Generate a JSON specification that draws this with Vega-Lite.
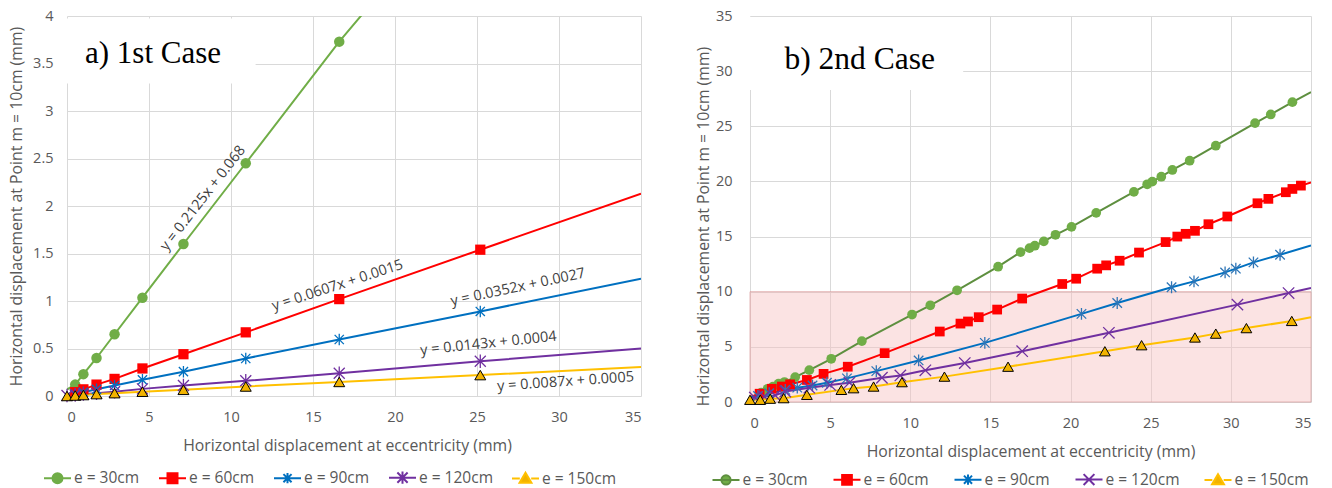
{
  "$schema": "https://vega.github.io/schema/vega-lite/v6.json",
  "background": "white",
  "padding": {"left": 8, "top": 8, "right": 0, "bottom": 0},
  "spacing": 54,
  "config": {
    "font": "Open Sans",
    "view": {"stroke": null},
    "axis": {
      "grid": true, "gridColor": "#d9d9d9", "gridWidth": 1, "domain": false, "ticks": false,
      "labelColor": "#595959", "labelFont": "Open Sans", "labelFontSize": 14.5,
      "titleColor": "#595959", "titleFont": "Open Sans", "titleFontSize": 15.8, "titleFontWeight": "normal"
    },
    "legend": {"padding": 0, "labelFont": "Open Sans", "labelColor": "#595959", "labelFontSize": 15.5}
  },
  "datasets": {
    "L": [
      {"series": "e = 30cm", "x": 0, "y": 0.068, "kind": "fit"},
      {"series": "e = 30cm", "x": 0.5, "y": 0.12, "kind": "obs"},
      {"series": "e = 30cm", "x": 1.0, "y": 0.23, "kind": "obs"},
      {"series": "e = 30cm", "x": 1.8, "y": 0.40, "kind": "obs"},
      {"series": "e = 30cm", "x": 2.9, "y": 0.65, "kind": "obs"},
      {"series": "e = 30cm", "x": 4.6, "y": 1.035, "kind": "obs"},
      {"series": "e = 30cm", "x": 7.1, "y": 1.60, "kind": "obs"},
      {"series": "e = 30cm", "x": 10.9, "y": 2.45, "kind": "obs"},
      {"series": "e = 30cm", "x": 16.6, "y": 3.73, "kind": "obs"},
      {"series": "e = 30cm", "x": 35, "y": 7.5, "kind": "fit"},
      {"series": "e = 60cm", "x": 0, "y": 0.0015, "kind": "fit"},
      {"series": "e = 60cm", "x": 0.5, "y": 0.04, "kind": "obs"},
      {"series": "e = 60cm", "x": 1.0, "y": 0.07, "kind": "obs"},
      {"series": "e = 60cm", "x": 1.8, "y": 0.12, "kind": "obs"},
      {"series": "e = 60cm", "x": 2.9, "y": 0.18, "kind": "obs"},
      {"series": "e = 60cm", "x": 4.6, "y": 0.29, "kind": "obs"},
      {"series": "e = 60cm", "x": 7.1, "y": 0.44, "kind": "obs"},
      {"series": "e = 60cm", "x": 10.9, "y": 0.67, "kind": "obs"},
      {"series": "e = 60cm", "x": 16.6, "y": 1.02, "kind": "obs"},
      {"series": "e = 60cm", "x": 25.2, "y": 1.54, "kind": "obs"},
      {"series": "e = 60cm", "x": 35, "y": 2.13, "kind": "fit"},
      {"series": "e = 90cm", "x": 0, "y": 0.003, "kind": "fit"},
      {"series": "e = 90cm", "x": 0.5, "y": 0.02, "kind": "obs"},
      {"series": "e = 90cm", "x": 1.0, "y": 0.04, "kind": "obs"},
      {"series": "e = 90cm", "x": 1.8, "y": 0.07, "kind": "obs"},
      {"series": "e = 90cm", "x": 2.9, "y": 0.11, "kind": "obs"},
      {"series": "e = 90cm", "x": 4.6, "y": 0.17, "kind": "obs"},
      {"series": "e = 90cm", "x": 7.1, "y": 0.256, "kind": "obs"},
      {"series": "e = 90cm", "x": 10.9, "y": 0.395, "kind": "obs"},
      {"series": "e = 90cm", "x": 16.6, "y": 0.595, "kind": "obs"},
      {"series": "e = 90cm", "x": 25.2, "y": 0.89, "kind": "obs"},
      {"series": "e = 90cm", "x": 35, "y": 1.235, "kind": "fit"},
      {"series": "e = 120cm", "x": 0, "y": 0.0004, "kind": "fit"},
      {"series": "e = 120cm", "x": 0, "y": 0.005, "kind": "obs"},
      {"series": "e = 120cm", "x": 0.5, "y": 0.01, "kind": "obs"},
      {"series": "e = 120cm", "x": 1.0, "y": 0.02, "kind": "obs"},
      {"series": "e = 120cm", "x": 1.8, "y": 0.03, "kind": "obs"},
      {"series": "e = 120cm", "x": 2.9, "y": 0.045, "kind": "obs"},
      {"series": "e = 120cm", "x": 4.6, "y": 0.075, "kind": "obs"},
      {"series": "e = 120cm", "x": 7.1, "y": 0.11, "kind": "obs"},
      {"series": "e = 120cm", "x": 10.9, "y": 0.16, "kind": "obs"},
      {"series": "e = 120cm", "x": 16.6, "y": 0.24, "kind": "obs"},
      {"series": "e = 120cm", "x": 25.2, "y": 0.365, "kind": "obs"},
      {"series": "e = 120cm", "x": 35, "y": 0.5, "kind": "fit"},
      {"series": "e = 150cm", "x": 0, "y": 0.0005, "kind": "fit"},
      {"series": "e = 150cm", "x": 0, "y": 0.0, "kind": "obs"},
      {"series": "e = 150cm", "x": 0.5, "y": 0.005, "kind": "obs"},
      {"series": "e = 150cm", "x": 1.0, "y": 0.01, "kind": "obs"},
      {"series": "e = 150cm", "x": 1.8, "y": 0.02, "kind": "obs"},
      {"series": "e = 150cm", "x": 2.9, "y": 0.03, "kind": "obs"},
      {"series": "e = 150cm", "x": 4.6, "y": 0.045, "kind": "obs"},
      {"series": "e = 150cm", "x": 7.1, "y": 0.065, "kind": "obs"},
      {"series": "e = 150cm", "x": 10.9, "y": 0.1, "kind": "obs"},
      {"series": "e = 150cm", "x": 16.6, "y": 0.148, "kind": "obs"},
      {"series": "e = 150cm", "x": 25.2, "y": 0.22, "kind": "obs"},
      {"series": "e = 150cm", "x": 35, "y": 0.305, "kind": "fit"}
    ],
    "R": [
      {"series": "e = 30cm", "x": 0, "y": 0.35, "kind": "fit"},
      {"series": "e = 30cm", "x": 0.7, "y": 0.85, "kind": "obs"},
      {"series": "e = 30cm", "x": 1.1, "y": 1.2, "kind": "obs"},
      {"series": "e = 30cm", "x": 1.43, "y": 1.39, "kind": "obs"},
      {"series": "e = 30cm", "x": 1.78, "y": 1.66, "kind": "obs"},
      {"series": "e = 30cm", "x": 2.15, "y": 1.81, "kind": "obs"},
      {"series": "e = 30cm", "x": 2.82, "y": 2.26, "kind": "obs"},
      {"series": "e = 30cm", "x": 3.70, "y": 2.89, "kind": "obs"},
      {"series": "e = 30cm", "x": 5.07, "y": 3.92, "kind": "obs"},
      {"series": "e = 30cm", "x": 6.98, "y": 5.52, "kind": "obs"},
      {"series": "e = 30cm", "x": 10.11, "y": 7.93, "kind": "obs"},
      {"series": "e = 30cm", "x": 11.25, "y": 8.77, "kind": "obs"},
      {"series": "e = 30cm", "x": 12.92, "y": 10.13, "kind": "obs"},
      {"series": "e = 30cm", "x": 15.48, "y": 12.27, "kind": "obs"},
      {"series": "e = 30cm", "x": 16.88, "y": 13.59, "kind": "obs"},
      {"series": "e = 30cm", "x": 17.44, "y": 13.95, "kind": "obs"},
      {"series": "e = 30cm", "x": 17.77, "y": 14.17, "kind": "obs"},
      {"series": "e = 30cm", "x": 18.33, "y": 14.56, "kind": "obs"},
      {"series": "e = 30cm", "x": 19.06, "y": 15.16, "kind": "obs"},
      {"series": "e = 30cm", "x": 20.06, "y": 15.88, "kind": "obs"},
      {"series": "e = 30cm", "x": 21.6, "y": 17.15, "kind": "obs"},
      {"series": "e = 30cm", "x": 23.95, "y": 19.05, "kind": "obs"},
      {"series": "e = 30cm", "x": 24.78, "y": 19.74, "kind": "obs"},
      {"series": "e = 30cm", "x": 25.1, "y": 19.98, "kind": "obs"},
      {"series": "e = 30cm", "x": 25.66, "y": 20.43, "kind": "obs"},
      {"series": "e = 30cm", "x": 26.35, "y": 21.04, "kind": "obs"},
      {"series": "e = 30cm", "x": 27.43, "y": 21.88, "kind": "obs"},
      {"series": "e = 30cm", "x": 29.06, "y": 23.24, "kind": "obs"},
      {"series": "e = 30cm", "x": 31.51, "y": 25.29, "kind": "obs"},
      {"series": "e = 30cm", "x": 32.49, "y": 26.07, "kind": "obs"},
      {"series": "e = 30cm", "x": 33.84, "y": 27.19, "kind": "obs"},
      {"series": "e = 30cm", "x": 35, "y": 28.1, "kind": "fit"},
      {"series": "e = 60cm", "x": 0, "y": 0.45, "kind": "fit"},
      {"series": "e = 60cm", "x": 0.6, "y": 0.75, "kind": "obs"},
      {"series": "e = 60cm", "x": 1.36, "y": 1.2, "kind": "obs"},
      {"series": "e = 60cm", "x": 1.99, "y": 1.4, "kind": "obs"},
      {"series": "e = 60cm", "x": 2.5, "y": 1.6, "kind": "obs"},
      {"series": "e = 60cm", "x": 3.55, "y": 2.0, "kind": "obs"},
      {"series": "e = 60cm", "x": 4.59, "y": 2.55, "kind": "obs"},
      {"series": "e = 60cm", "x": 6.1, "y": 3.2, "kind": "obs"},
      {"series": "e = 60cm", "x": 8.4, "y": 4.43, "kind": "obs"},
      {"series": "e = 60cm", "x": 11.84, "y": 6.39, "kind": "obs"},
      {"series": "e = 60cm", "x": 13.13, "y": 7.11, "kind": "obs"},
      {"series": "e = 60cm", "x": 13.6, "y": 7.3, "kind": "obs"},
      {"series": "e = 60cm", "x": 14.27, "y": 7.69, "kind": "obs"},
      {"series": "e = 60cm", "x": 15.42, "y": 8.38, "kind": "obs"},
      {"series": "e = 60cm", "x": 16.98, "y": 9.38, "kind": "obs"},
      {"series": "e = 60cm", "x": 19.48, "y": 10.7, "kind": "obs"},
      {"series": "e = 60cm", "x": 20.35, "y": 11.18, "kind": "obs"},
      {"series": "e = 60cm", "x": 21.66, "y": 12.09, "kind": "obs"},
      {"series": "e = 60cm", "x": 22.22, "y": 12.39, "kind": "obs"},
      {"series": "e = 60cm", "x": 23.06, "y": 12.81, "kind": "obs"},
      {"series": "e = 60cm", "x": 24.27, "y": 13.55, "kind": "obs"},
      {"series": "e = 60cm", "x": 25.93, "y": 14.5, "kind": "obs"},
      {"series": "e = 60cm", "x": 26.66, "y": 15.0, "kind": "obs"},
      {"series": "e = 60cm", "x": 27.18, "y": 15.25, "kind": "obs"},
      {"series": "e = 60cm", "x": 27.76, "y": 15.52, "kind": "obs"},
      {"series": "e = 60cm", "x": 28.6, "y": 16.12, "kind": "obs"},
      {"series": "e = 60cm", "x": 29.78, "y": 16.82, "kind": "obs"},
      {"series": "e = 60cm", "x": 31.66, "y": 18.02, "kind": "obs"},
      {"series": "e = 60cm", "x": 32.34, "y": 18.42, "kind": "obs"},
      {"series": "e = 60cm", "x": 33.43, "y": 19.02, "kind": "obs"},
      {"series": "e = 60cm", "x": 33.84, "y": 19.32, "kind": "obs"},
      {"series": "e = 60cm", "x": 34.37, "y": 19.62, "kind": "obs"},
      {"series": "e = 60cm", "x": 35, "y": 19.9, "kind": "fit"},
      {"series": "e = 90cm", "x": 0, "y": 0.45, "kind": "fit"},
      {"series": "e = 90cm", "x": 0.5, "y": 0.55, "kind": "obs"},
      {"series": "e = 90cm", "x": 1.2, "y": 0.8, "kind": "obs"},
      {"series": "e = 90cm", "x": 2.2, "y": 1.1, "kind": "obs"},
      {"series": "e = 90cm", "x": 2.95, "y": 1.3, "kind": "obs"},
      {"series": "e = 90cm", "x": 3.9, "y": 1.5, "kind": "obs"},
      {"series": "e = 90cm", "x": 4.8, "y": 1.75, "kind": "obs"},
      {"series": "e = 90cm", "x": 6.05, "y": 2.14, "kind": "obs"},
      {"series": "e = 90cm", "x": 7.88, "y": 2.8, "kind": "obs"},
      {"series": "e = 90cm", "x": 10.52, "y": 3.77, "kind": "obs"},
      {"series": "e = 90cm", "x": 14.65, "y": 5.36, "kind": "obs"},
      {"series": "e = 90cm", "x": 20.68, "y": 7.99, "kind": "obs"},
      {"series": "e = 90cm", "x": 22.91, "y": 8.98, "kind": "obs"},
      {"series": "e = 90cm", "x": 26.3, "y": 10.4, "kind": "obs"},
      {"series": "e = 90cm", "x": 27.7, "y": 10.94, "kind": "obs"},
      {"series": "e = 90cm", "x": 29.64, "y": 11.75, "kind": "obs"},
      {"series": "e = 90cm", "x": 30.31, "y": 12.09, "kind": "obs"},
      {"series": "e = 90cm", "x": 31.41, "y": 12.66, "kind": "obs"},
      {"series": "e = 90cm", "x": 33.07, "y": 13.35, "kind": "obs"},
      {"series": "e = 90cm", "x": 35, "y": 14.2, "kind": "fit"},
      {"series": "e = 120cm", "x": 0, "y": 0.35, "kind": "fit"},
      {"series": "e = 120cm", "x": 0.3, "y": 0.4, "kind": "obs"},
      {"series": "e = 120cm", "x": 0.9, "y": 0.5, "kind": "obs"},
      {"series": "e = 120cm", "x": 1.57, "y": 0.6, "kind": "obs"},
      {"series": "e = 120cm", "x": 2.2, "y": 0.95, "kind": "obs"},
      {"series": "e = 120cm", "x": 3.7, "y": 1.3, "kind": "obs"},
      {"series": "e = 120cm", "x": 5.0, "y": 1.55, "kind": "obs"},
      {"series": "e = 120cm", "x": 6.2, "y": 1.75, "kind": "obs"},
      {"series": "e = 120cm", "x": 8.23, "y": 2.2, "kind": "obs"},
      {"series": "e = 120cm", "x": 9.38, "y": 2.41, "kind": "obs"},
      {"series": "e = 120cm", "x": 10.94, "y": 2.87, "kind": "obs"},
      {"series": "e = 120cm", "x": 13.4, "y": 3.53, "kind": "obs"},
      {"series": "e = 120cm", "x": 16.98, "y": 4.61, "kind": "obs"},
      {"series": "e = 120cm", "x": 22.39, "y": 6.27, "kind": "obs"},
      {"series": "e = 120cm", "x": 30.41, "y": 8.83, "kind": "obs"},
      {"series": "e = 120cm", "x": 33.6, "y": 9.88, "kind": "obs"},
      {"series": "e = 120cm", "x": 35, "y": 10.33, "kind": "fit"},
      {"series": "e = 150cm", "x": 0, "y": 0.25, "kind": "fit"},
      {"series": "e = 150cm", "x": 0, "y": 0.2, "kind": "obs"},
      {"series": "e = 150cm", "x": 0.64, "y": 0.2, "kind": "obs"},
      {"series": "e = 150cm", "x": 1.26, "y": 0.3, "kind": "obs"},
      {"series": "e = 150cm", "x": 2.1, "y": 0.35, "kind": "obs"},
      {"series": "e = 150cm", "x": 3.55, "y": 0.65, "kind": "obs"},
      {"series": "e = 150cm", "x": 5.7, "y": 1.1, "kind": "obs"},
      {"series": "e = 150cm", "x": 6.46, "y": 1.25, "kind": "obs"},
      {"series": "e = 150cm", "x": 7.71, "y": 1.4, "kind": "obs"},
      {"series": "e = 150cm", "x": 9.48, "y": 1.8, "kind": "obs"},
      {"series": "e = 150cm", "x": 12.13, "y": 2.3, "kind": "obs"},
      {"series": "e = 150cm", "x": 16.1, "y": 3.2, "kind": "obs"},
      {"series": "e = 150cm", "x": 22.14, "y": 4.6, "kind": "obs"},
      {"series": "e = 150cm", "x": 24.43, "y": 5.15, "kind": "obs"},
      {"series": "e = 150cm", "x": 27.76, "y": 5.85, "kind": "obs"},
      {"series": "e = 150cm", "x": 29.06, "y": 6.2, "kind": "obs"},
      {"series": "e = 150cm", "x": 30.97, "y": 6.7, "kind": "obs"},
      {"series": "e = 150cm", "x": 33.8, "y": 7.35, "kind": "obs"},
      {"series": "e = 150cm", "x": 35, "y": 7.69, "kind": "fit"}
    ]
  },
  "hconcat": [
    {
      "width": 574,
      "height": 380,
      "encoding": {
        "x": {"field": "x", "type": "quantitative", "scale": {"domain": [0, 35], "nice": false, "zero": false},
              "axis": {"title": "Horizontal displacement at eccentricity (mm)", "values": [0, 5, 10, 15, 20, 25, 30, 35], "labelPadding": 14, "titlePadding": 15, "titleX": 280}},
        "y": {"field": "y", "type": "quantitative", "scale": {"domain": [0, 4], "nice": false, "zero": false},
              "axis": {"title": "Horizontal displacement at Point m = 10cm  (mm)", "values": [0, 0.5, 1, 1.5, 2, 2.5, 3, 3.5, 4], "format": "~g", "labelPadding": 14, "titlePadding": 8}}
      },
      "layer": [
        {
          "data": {"values": [{"x": 0, "x2": 11.5, "y": 3.29, "y2": 3.975}]},
          "mark": {"type": "rect", "fill": "white"},
          "encoding": {"x2": {"field": "x2"}, "y2": {"field": "y2"}}
        },
        {
          "data": {"name": "L"},
          "mark": {"type": "line", "strokeWidth": 2, "clip": true},
          "encoding": {
            "order": {"field": "x", "type": "quantitative"},
            "color": {"field": "series", "type": "nominal",
              "scale": {"domain": ["e = 30cm", "e = 60cm", "e = 90cm", "e = 120cm", "e = 150cm"], "range": ["#70ad47", "#ff0000", "#0070c0", "#7030a0", "#ffc000"]},
              "legend": {"orient": "none", "legendX": -24, "legendY": 447, "direction": "horizontal", "columns": 5, "title": null,
                "symbolSize": 729, "symbolStrokeWidth": 2, "labelOffset": 2, "columnPadding": 15}
            }
          }
        },
        {
          "data": {"name": "L"},
          "transform": [{"filter": "datum.kind === 'legend'"}],
          "mark": {"type": "point", "filled": true, "opacity": 1},
          "encoding": {
            "shape": {"field": "series", "type": "nominal", "legend": null,
              "scale": {"domain": ["e = 30cm", "e = 60cm", "e = 90cm", "e = 120cm", "e = 150cm"], "range": [
                "M-1,0L1,0M-0.37,0A0.37,0.37,0,1,0,0.37,0A0.37,0.37,0,1,0,-0.37,0Z",
                "M-1,0L1,0M-0.37,-0.37L0.37,-0.37L0.37,0.37L-0.37,0.37Z",
                "M-1,0L1,0M-0.3,-0.3L0.3,0.3M-0.3,0.3L0.3,-0.3M0,-0.38L0,0.38",
                "M-1,0L1,0M-0.38,-0.38L0.38,0.38M-0.38,0.38L0.38,-0.38M0,-0.46L0,0.46",
                "M-1,0L-0.42,0M0.42,0L1,0M0,-0.42L0.44,0.32L-0.44,0.32Z"]}},
            "fill": {"field": "series", "type": "nominal", "legend": null,
              "scale": {"domain": ["e = 30cm", "e = 60cm", "e = 90cm", "e = 120cm", "e = 150cm"], "range": ["#70ad47", "#ff0000", "transparent", "transparent", "#f2b300"]}}
          }
        },
        {
          "data": {"name": "L"},
          "transform": [{"filter": "datum.kind === 'obs' && datum.series === 'e = 30cm'"}],
          "mark": {"type": "point", "shape": "circle", "filled": true, "size": 110, "color": "#70ad47", "opacity": 1}
        },
        {
          "data": {"name": "L"},
          "transform": [{"filter": "datum.kind === 'obs' && datum.series === 'e = 60cm'"}],
          "mark": {"type": "point", "shape": "square", "filled": true, "size": 105, "color": "#ff0000", "opacity": 1}
        },
        {
          "data": {"name": "L"},
          "transform": [{"filter": "datum.kind === 'obs' && datum.series === 'e = 90cm'"}],
          "mark": {"type": "point", "shape": "M-1,-1L1,1M-1,1L1,-1M0,-1.25L0,1.25", "filled": false, "size": 85, "color": "#0070c0", "strokeWidth": 1.3, "opacity": 1}
        },
        {
          "data": {"name": "L"},
          "transform": [{"filter": "datum.kind === 'obs' && datum.series === 'e = 120cm'"}],
          "mark": {"type": "point", "shape": "M-1.1,-1.1L1.1,1.1M-1.1,1.1L1.1,-1.1M0,-1.35L0,1.35", "filled": false, "size": 100, "color": "#7030a0", "strokeWidth": 1.3, "opacity": 1}
        },
        {
          "data": {"name": "L"},
          "transform": [{"filter": "datum.kind === 'obs' && datum.series === 'e = 150cm'"}],
          "mark": {"type": "point", "shape": "triangle-up", "filled": true, "size": 120, "fill": "#f2b300", "stroke": "#000000", "strokeWidth": 1, "opacity": 1}
        },
        {
          "data": {"values": [{"x": 8.3, "y": 2.08, "label": "y = 0.2125x + 0.068"}]},
          "mark": {"type": "text", "angle": 308, "font": "Open Sans", "fontSize": 14.5, "color": "#404040"},
          "encoding": {"text": {"field": "label"}}
        },
        {
          "data": {"values": [{"x": 16.5, "y": 1.16, "label": "y = 0.0607x + 0.0015"}]},
          "mark": {"type": "text", "angle": 342, "font": "Open Sans", "fontSize": 14.5, "color": "#404040"},
          "encoding": {"text": {"field": "label"}}
        },
        {
          "data": {"values": [{"x": 27.5, "y": 1.14, "label": "y = 0.0352x + 0.0027"}]},
          "mark": {"type": "text", "angle": 348, "font": "Open Sans", "fontSize": 14.5, "color": "#404040"},
          "encoding": {"text": {"field": "label"}}
        },
        {
          "data": {"values": [{"x": 25.7, "y": 0.55, "label": "y = 0.0143x + 0.0004"}]},
          "mark": {"type": "text", "angle": 354, "font": "Open Sans", "fontSize": 14.5, "color": "#404040"},
          "encoding": {"text": {"field": "label"}}
        },
        {
          "data": {"values": [{"x": 30.4, "y": 0.147, "label": "y = 0.0087x + 0.0005"}]},
          "mark": {"type": "text", "angle": 356, "font": "Open Sans", "fontSize": 14.5, "color": "#404040"},
          "encoding": {"text": {"field": "label"}}
        },
        {
          "data": {"values": [{"x": 1.1, "y": 3.51, "label": "a) 1st Case"}]},
          "mark": {"type": "text", "align": "left", "baseline": "alphabetic", "font": "Liberation Serif", "fontSize": 31, "color": "#000000"},
          "encoding": {"text": {"field": "label"}}
        }
      ]
    },
    {
      "width": 561,
      "height": 386,
      "encoding": {
        "x": {"field": "x", "type": "quantitative", "scale": {"domain": [0, 35], "nice": false, "zero": false},
              "axis": {"title": "Horizontal displacement at eccentricity (mm)", "values": [0, 5, 10, 15, 20, 25, 30, 35], "labelPadding": 14, "titlePadding": 15}},
        "y": {"field": "y", "type": "quantitative", "scale": {"domain": [0, 35], "nice": false, "zero": false},
              "axis": {"title": "Horizontal displacement at Point m = 10cm (mm)", "values": [0, 5, 10, 15, 20, 25, 30, 35], "labelPadding": 18, "titlePadding": 4, "titleY": 210}}
      },
      "layer": [
        {
          "data": {"values": [{"x": 0, "x2": 13.3, "y": 28.3, "y2": 34.9}]},
          "mark": {"type": "rect", "fill": "white"},
          "encoding": {"x2": {"field": "x2"}, "y2": {"field": "y2"}}
        },
        {
          "data": {"values": [{"x": 0, "x2": 35, "y": 0, "y2": 10}]},
          "mark": {"type": "rect", "fill": "#f6c0c0", "fillOpacity": 0.45, "stroke": "#d99a9a", "strokeWidth": 1, "strokeOpacity": 0.7},
          "encoding": {"x2": {"field": "x2"}, "y2": {"field": "y2"}}
        },
        {
          "data": {"name": "R"},
          "mark": {"type": "line", "strokeWidth": 2, "clip": true},
          "encoding": {
            "order": {"field": "x", "type": "quantitative"},
            "color": {"field": "series", "type": "nominal",
              "scale": {"domain": ["e = 30cm", "e = 60cm", "e = 90cm", "e = 120cm", "e = 150cm"], "range": ["#5e8f3f", "#ff0000", "#0070c0", "#7030a0", "#ffc000"]},
              "legend": {"orient": "none", "legendX": -38.5, "legendY": 449, "direction": "horizontal", "columns": 5, "title": null,
                "symbolSize": 729, "symbolStrokeWidth": 2, "labelOffset": 2, "columnPadding": 21}
            }
          }
        },
        {
          "data": {"name": "R"},
          "transform": [{"filter": "datum.kind === 'legend'"}],
          "mark": {"type": "point", "filled": true, "opacity": 1},
          "encoding": {
            "shape": {"field": "series", "type": "nominal", "legend": null,
              "scale": {"domain": ["e = 30cm", "e = 60cm", "e = 90cm", "e = 120cm", "e = 150cm"], "range": [
                "M-1,0L1,0M-0.34,0A0.34,0.34,0,1,0,0.34,0A0.34,0.34,0,1,0,-0.34,0Z",
                "M-1,0L1,0M-0.36,-0.36L0.36,-0.36L0.36,0.36L-0.36,0.36Z",
                "M-1,0L1,0M-0.3,-0.3L0.3,0.3M-0.3,0.3L0.3,-0.3M0,-0.38L0,0.38",
                "M-1,0L1,0M-0.4,-0.4L0.4,0.4M-0.4,0.4L0.4,-0.4",
                "M-1,0L-0.42,0M0.42,0L1,0M0,-0.42L0.44,0.32L-0.44,0.32Z"]}},
            "fill": {"field": "series", "type": "nominal", "legend": null,
              "scale": {"domain": ["e = 30cm", "e = 60cm", "e = 90cm", "e = 120cm", "e = 150cm"], "range": ["#70ad47", "#ff0000", "transparent", "transparent", "#f2b300"]}}
          }
        },
        {
          "data": {"name": "R"},
          "transform": [{"filter": "datum.kind === 'obs' && datum.series === 'e = 30cm'"}],
          "mark": {"type": "point", "shape": "circle", "filled": true, "size": 95, "color": "#70ad47", "opacity": 1}
        },
        {
          "data": {"name": "R"},
          "transform": [{"filter": "datum.kind === 'obs' && datum.series === 'e = 60cm'"}],
          "mark": {"type": "point", "shape": "square", "filled": true, "size": 95, "color": "#ff0000", "opacity": 1}
        },
        {
          "data": {"name": "R"},
          "transform": [{"filter": "datum.kind === 'obs' && datum.series === 'e = 90cm'"}],
          "mark": {"type": "point", "shape": "M-1,-1L1,1M-1,1L1,-1M0,-1.25L0,1.25", "filled": false, "size": 90, "color": "#2e75b6", "strokeWidth": 1.3, "opacity": 1}
        },
        {
          "data": {"name": "R"},
          "transform": [{"filter": "datum.kind === 'obs' && datum.series === 'e = 120cm'"}],
          "mark": {"type": "point", "shape": "M-1.2,-1.2L1.2,1.2M-1.2,1.2L1.2,-1.2", "filled": false, "size": 90, "color": "#7030a0", "strokeWidth": 1.3, "opacity": 1}
        },
        {
          "data": {"name": "R"},
          "transform": [{"filter": "datum.kind === 'obs' && datum.series === 'e = 150cm'"}],
          "mark": {"type": "point", "shape": "triangle-up", "filled": true, "size": 115, "fill": "#f2b300", "stroke": "#000000", "strokeWidth": 1, "opacity": 1}
        },
        {
          "data": {"values": [{"x": 2.15, "y": 30.23, "label": "b) 2nd Case"}]},
          "mark": {"type": "text", "align": "left", "baseline": "alphabetic", "font": "Liberation Serif", "fontSize": 31.5, "color": "#000000"},
          "encoding": {"text": {"field": "label"}}
        }
      ]
    }
  ],
  "resolve": {
    "scale": {"x": "independent", "y": "independent", "color": "independent", "shape": "independent", "fill": "independent"},
    "legend": {"color": "independent", "shape": "independent", "fill": "independent"}
  }
}
